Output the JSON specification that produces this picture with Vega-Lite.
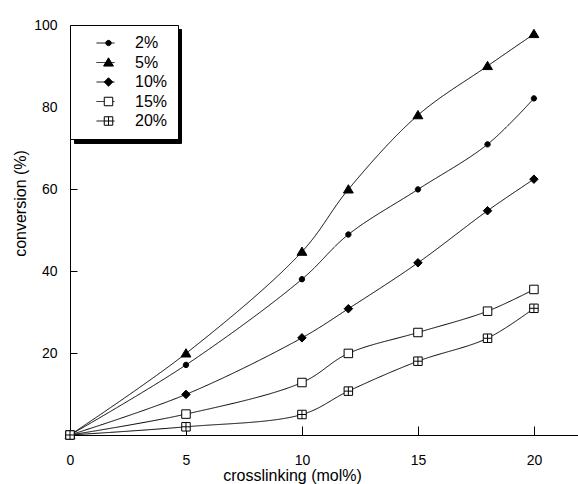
{
  "$schema": "https://vega.github.io/schema/vega-lite/v6.json",
  "width": 508,
  "height": 410,
  "autosize": {"type": "none"},
  "padding": {"left": 70, "top": 25, "right": 0, "bottom": 49},
  "background": "white",
  "config": {
    "view": {"stroke": null},
    "font": "Liberation Sans",
    "axis": {
      "grid": false,
      "domainColor": "black",
      "tickColor": "black",
      "labelColor": "black",
      "titleColor": "black",
      "labelFont": "Liberation Sans",
      "titleFont": "Liberation Sans",
      "labelFontSize": 14,
      "titleFontSize": 16,
      "titleFontWeight": "normal"
    }
  },
  "resolve": {"axis": {"x": "independent", "y": "independent"}},
  "data": {
    "values": [
      {"pct": 5, "x": 0, "y": 0}, {"pct": 5, "x": 5, "y": 19.9}, {"pct": 5, "x": 10, "y": 44.7}, {"pct": 5, "x": 12, "y": 59.9}, {"pct": 5, "x": 15, "y": 78.0}, {"pct": 5, "x": 18, "y": 90.0}, {"pct": 5, "x": 20, "y": 97.8},
      {"pct": 2, "x": 0, "y": 0}, {"pct": 2, "x": 5, "y": 17.1}, {"pct": 2, "x": 10, "y": 38.0}, {"pct": 2, "x": 12, "y": 48.9}, {"pct": 2, "x": 15, "y": 59.9}, {"pct": 2, "x": 18, "y": 70.9}, {"pct": 2, "x": 20, "y": 82.1},
      {"pct": 10, "x": 0, "y": 0}, {"pct": 10, "x": 5, "y": 9.9}, {"pct": 10, "x": 10, "y": 23.7}, {"pct": 10, "x": 12, "y": 30.8}, {"pct": 10, "x": 15, "y": 42.0}, {"pct": 10, "x": 18, "y": 54.7}, {"pct": 10, "x": 20, "y": 62.4},
      {"pct": 15, "x": 0, "y": 0}, {"pct": 15, "x": 5, "y": 5.1}, {"pct": 15, "x": 10, "y": 12.8}, {"pct": 15, "x": 12, "y": 19.9}, {"pct": 15, "x": 15, "y": 25.0}, {"pct": 15, "x": 18, "y": 30.2}, {"pct": 15, "x": 20, "y": 35.5},
      {"pct": 20, "x": 0, "y": 0}, {"pct": 20, "x": 5, "y": 2.0}, {"pct": 20, "x": 10, "y": 5.0}, {"pct": 20, "x": 12, "y": 10.7}, {"pct": 20, "x": 15, "y": 18.0}, {"pct": 20, "x": 18, "y": 23.6}, {"pct": 20, "x": 20, "y": 30.9}
    ]
  },
  "layer": [
    {
      "mark": {"type": "line", "color": "black", "strokeWidth": 1, "interpolate": "catmull-rom"},
      "encoding": {
        "x": {
          "field": "x", "type": "quantitative",
          "scale": {"domain": [0, 21.9], "nice": false},
          "axis": {
            "orient": "bottom",
            "values": [0, 5, 10, 15, 20],
            "ticks": false,
            "tickSize": 0,
            "labelPadding": 18,
            "labelFlush": false,
            "title": "crosslinking (mol%)",
            "titleX": 222,
            "titleY": 45,
            "titleAlign": "center",
            "titleBaseline": "alphabetic"
          }
        },
        "y": {
          "field": "y", "type": "quantitative",
          "scale": {"domain": [0, 100], "nice": false},
          "axis": {
            "orient": "left",
            "values": [20, 40, 60, 80, 100],
            "ticks": false,
            "tickSize": 0,
            "labelPadding": 13,
            "labelFlush": false,
            "title": "conversion (%)",
            "titleX": -50,
            "titleY": 178,
            "titleAngle": 270,
            "titleAlign": "center",
            "titleBaseline": "middle"
          }
        },
        "color": {
          "field": "pct", "type": "ordinal", "sort": "descending",
          "scale": {"range": ["black", "black", "black", "black", "black"]},
          "legend": {
            "orient": "none", "legendX": 4, "legendY": 4, "title": null,
            "symbolType": "stroke", "symbolSize": 4900, "symbolStrokeWidth": 1, "symbolOpacity": 0,
            "strokeColor": "black", "fillColor": "black", "padding": 10, "clipHeight": 16, "rowPadding": 3.5,
            "symbolOffset": 16, "labelOffset": 0, "labelFontSize": 16, "labelOpacity": 0,
            "labelExpr": "''"
          }
        },
        "strokeDash": {
          "field": "pct", "type": "ordinal",
          "scale": {"range": [[1, 0], [1, 0], [1, 0], [1, 0], [1, 0]]},
          "legend": {
            "orient": "none", "legendX": 0, "legendY": 0, "title": null,
            "symbolType": "stroke", "symbolSize": 324, "symbolStrokeWidth": 1, "symbolStrokeColor": "black",
            "strokeColor": "black", "fillColor": "white", "padding": 10, "clipHeight": 16, "rowPadding": 3.5,
            "symbolOffset": 16, "labelOffset": 20, "labelFontSize": 16, "labelColor": "black",
            "labelFont": "Liberation Sans",
            "labelExpr": "datum.label + '%'"
          }
        }
      }
    },
    {
      "mark": {"type": "point", "size": 80, "stroke": "black", "strokeWidth": 1, "opacity": 1},
      "encoding": {
        "x": {
          "field": "x", "type": "quantitative",
          "axis": {
            "orient": "bottom", "values": [5, 10, 15, 20], "tickSize": 9, "offset": -9,
            "domain": false, "labels": false, "title": null
          }
        },
        "y": {
          "field": "y", "type": "quantitative",
          "axis": {
            "orient": "left", "values": [20, 40, 60, 80], "tickSize": 7, "offset": -7,
            "domain": false, "labels": false, "title": null
          }
        },
        "shape": {
          "field": "pct", "type": "ordinal",
          "scale": {
            "domain": [2, 5, 10, 15, 20],
            "range": [
              "M0.6,0A0.6,0.6 0 1,1 -0.6,0A0.6,0.6 0 1,1 0.6,0Z",
              "M0,-1.05L1.1,0.8L-1.1,0.8Z",
              "M0,-0.95L0.95,0L0,0.95L-0.95,0Z",
              "M-0.95,-0.95H0.95V0.95H-0.95Z",
              "M-0.95,-0.95H0.95V0.95H-0.95Z M0,-0.95V0.95 M-0.95,0H0.95"
            ]
          },
          "legend": {
            "orient": "none", "legendX": 0, "legendY": 0, "title": null,
            "symbolSize": 80, "symbolStrokeWidth": 1, "symbolStrokeColor": "black",
            "padding": 10, "clipHeight": 16, "rowPadding": 3.5,
            "symbolOffset": 20.5, "labelOpacity": 0, "labelFontSize": 16,
            "labelExpr": "''"
          }
        },
        "fill": {
          "field": "pct", "type": "ordinal",
          "scale": {"domain": [2, 5, 10, 15, 20], "range": ["black", "black", "black", "white", "white"]},
          "legend": {
            "orient": "none", "legendX": 0, "legendY": 0, "title": null,
            "symbolSize": 80, "symbolStrokeWidth": 1, "symbolStrokeColor": "black",
            "padding": 10, "clipHeight": 16, "rowPadding": 3.5,
            "symbolOffset": 20.5, "labelOpacity": 0, "labelFontSize": 16,
            "labelExpr": "''"
          }
        },
        "stroke": {
          "field": "pct", "type": "ordinal",
          "scale": {"domain": [2, 5, 10, 15, 20], "range": ["black", "black", "black", "black", "black"]},
          "legend": {
            "orient": "none", "legendX": 0, "legendY": 0, "title": null,
            "symbolSize": 80, "symbolStrokeWidth": 1,
            "padding": 10, "clipHeight": 16, "rowPadding": 3.5,
            "symbolOffset": 20.5, "labelOpacity": 0, "labelFontSize": 16,
            "labelExpr": "''"
          }
        }
      }
    }
  ]
}
